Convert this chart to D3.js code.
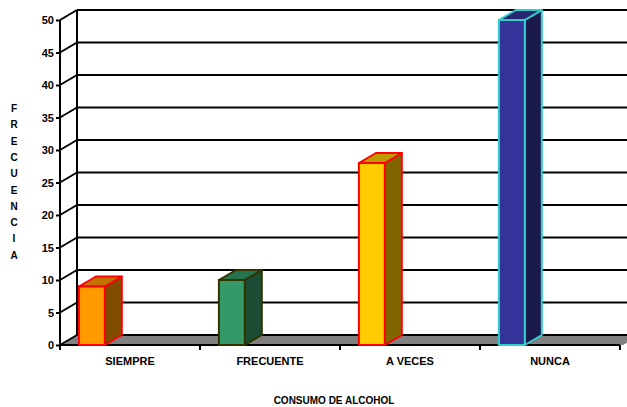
<!DOCTYPE html>
<html>
<head>
<meta charset="utf-8">
<script src="https://cdn.jsdelivr.net/npm/d3@7"></script>
<style>
  body { margin: 0; background: white; }
  text { font-family: "Liberation Sans", Arial, sans-serif; font-weight: bold; }
</style>
</head>
<body>
<div id="chart"></div>
<script>
// data
const categories = ['SIEMPRE', 'FRECUENTE', 'A VECES', 'NUNCA'];
const values = [9, 10, 28, 50];
const yTicks = [0, 5, 10, 15, 20, 25, 30, 35, 40, 45, 50];
const frontColors = ['#FF9900', '#339966', '#FFCC00', '#333399'];
const topColors = ['#C07300', '#267350', '#BF9900', '#262673'];
const sideColors = ['#804C00', '#1A4D33', '#806600', '#1A1A4D'];
const edgeColors = ['#FF0000', '#333300', '#FF0000', '#33CCCC'];

let width = 627,
	height = 407,
	margin = { top: 20, bottom: 62, left: 60, right: 7 };

// 3d depth offset
let dx = 17, dy = -10;

let svg = d3.select('#chart')
	.append('svg')
		.attr('width', width)
		.attr('height', height)
		.style('background', 'white');

let xScale = d3.scaleBand()
	.domain(categories)
	.range([margin.left, 620])
	.padding(0);

let yScale = d3.scaleLinear()
	.domain([0, 50])
	.range([height - margin.bottom, margin.top]);

let y0 = yScale(0);
let xEnd = xScale.range()[1];

// gray floor
svg.append('polygon')
	.attr('points', [[margin.left, y0], [xEnd + 3, y0], [xEnd + 3 + dx, y0 + dy], [margin.left + dx, y0 + dy]].join(' '))
	.attr('fill', '#808080');

// gridlines on back wall
svg.append('g')
	.selectAll('line')
	.data(yTicks)
	.enter()
	.append('line')
	.attr('x1', margin.left + dx)
	.attr('x2', width + 20)
	.attr('y1', d => yScale(d) + dy)
	.attr('y2', d => yScale(d) + dy)
	.attr('stroke', 'black')
	.attr('stroke-width', 2);

// diagonals on left wall
svg.append('g')
	.selectAll('line')
	.data(yTicks)
	.enter()
	.append('line')
	.attr('x1', margin.left)
	.attr('y1', d => yScale(d))
	.attr('x2', margin.left + dx)
	.attr('y2', d => yScale(d) + dy)
	.attr('stroke', 'black')
	.attr('stroke-width', 2);

// back corner line
svg.append('line')
	.attr('x1', margin.left + dx).attr('x2', margin.left + dx)
	.attr('y1', yScale(50) + dy).attr('y2', y0 + dy)
	.attr('stroke', 'black')
	.attr('stroke-width', 2);

// y axis
let yAxis = d3.axisLeft(yScale).tickValues(yTicks).tickSize(4).tickPadding(2);
let yG = svg.append('g')
	.attr('transform', 'translate(' + margin.left + ',0)')
	.call(yAxis);
yG.select('.domain').attr('stroke-width', 2).attr('d', 'M0,' + yScale(50) + 'V' + y0);
yG.selectAll('.tick line').attr('stroke-width', 2);
yG.selectAll('.tick text')
	.style('font-size', '11px')
	.style('font-family', '"Liberation Sans", Arial, sans-serif')
	.style('font-weight', 'bold')
	.attr('fill', 'black');

// x axis line
svg.append('line')
	.attr('x1', margin.left).attr('x2', xEnd)
	.attr('y1', y0).attr('y2', y0)
	.attr('stroke', 'black')
	.attr('stroke-width', 2);

// x ticks at band edges
let edges = categories.map(c => xScale(c)).concat([xEnd]);
svg.append('g')
	.selectAll('line')
	.data(edges)
	.enter()
	.append('line')
	.attr('x1', d => d).attr('x2', d => d)
	.attr('y1', y0).attr('y2', y0 + 5)
	.attr('stroke', 'black')
	.attr('stroke-width', 2);

// category labels
let xAxis = d3.axisBottom(xScale).tickSize(0).tickPadding(12);
let xG = svg.append('g')
	.attr('transform', 'translate(0,' + y0 + ')')
	.call(xAxis);
xG.select('.domain').remove();
xG.selectAll('.tick text')
	.style('font-size', '11px')
	.style('font-family', '"Liberation Sans", Arial, sans-serif')
	.style('font-weight', 'bold')
	.attr('fill', 'black');

// bars
let bw = xScale.bandwidth();
let bars = svg.append('g')
	.selectAll('g')
	.data(categories)
	.enter()
	.append('g');

function barX0(c) { return xScale(c) + bw * 0.135; }
function barX1(c) { return xScale(c) + bw * 0.32; }

// side face
bars.append('polygon')
	.attr('points', (c, i) => {
		let x1 = barX1(c), yt = yScale(values[i]);
		return [[x1, yt], [x1 + dx, yt + dy], [x1 + dx, y0 + dy], [x1, y0]].join(' ');
	})
	.attr('fill', (c, i) => sideColors[i])
	.attr('stroke', (c, i) => edgeColors[i])
	.attr('stroke-width', 2)
	.attr('stroke-linejoin', 'round');

// top face
bars.append('polygon')
	.attr('points', (c, i) => {
		let x0 = barX0(c), x1 = barX1(c), yt = yScale(values[i]);
		return [[x0, yt], [x0 + dx, yt + dy], [x1 + dx, yt + dy], [x1, yt]].join(' ');
	})
	.attr('fill', (c, i) => topColors[i])
	.attr('stroke', (c, i) => edgeColors[i])
	.attr('stroke-width', 2)
	.attr('stroke-linejoin', 'round');

// front face
bars.append('rect')
	.attr('x', c => barX0(c))
	.attr('y', (c, i) => yScale(values[i]))
	.attr('width', c => barX1(c) - barX0(c))
	.attr('height', (c, i) => y0 - yScale(values[i]))
	.attr('fill', (c, i) => frontColors[i])
	.attr('stroke', (c, i) => edgeColors[i])
	.attr('stroke-width', 2);

// y title, stacked letters
svg.append('g')
	.selectAll('text')
	.data('FRECUENCIA'.split(''))
	.enter()
	.append('text')
	.attr('x', 14)
	.attr('y', (d, i) => 112 + i * 16.3)
	.attr('text-anchor', 'middle')
	.style('font-size', '10px')
	.text(d => d);

// x title
svg.append('text')
	.attr('x', 334)
	.attr('y', 404)
	.attr('text-anchor', 'middle')
	.style('font-size', '10px')
	.text('CONSUMO DE ALCOHOL');
</script>
</body>
</html>
